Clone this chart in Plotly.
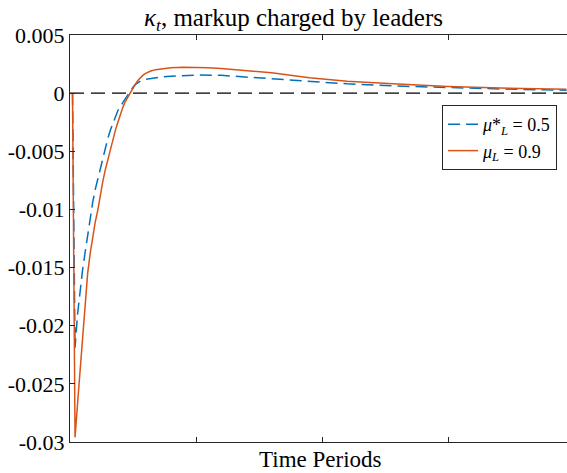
import plotly.graph_objects as go

# ---- data ----
t_blue = [1, 2, 3, 4, 5, 6, 7, 8, 9, 10, 11, 12, 13, 14, 15, 16, 17, 19, 21, 22, 23, 24, 25, 26, 27, 28, 30, 33, 36, 40, 45,
          52, 60, 75, 94, 110, 130, 150, 171, 197]
kappa_blue = [0.0, -0.0219, -0.0190, -0.0169, -0.0152, -0.0137, -0.0122, -0.0106, -0.0094, -0.0083, -0.0074, -0.0065,
              -0.0055, -0.0046, -0.0039, -0.0032, -0.0026, -0.0015, -0.0008, -0.00045, -0.0001, 0.0002, 0.0005, 0.00075,
              0.00092, 0.00104, 0.00118, 0.00130, 0.00138, 0.00146, 0.00152, 0.00156, 0.00153, 0.00130, 0.00099, 0.00080,
              0.00061, 0.00047, 0.00036, 0.00025]

t_orange = [1, 2, 3, 4, 5, 6, 7, 8, 9, 10, 11, 12, 13, 14, 15, 16, 18, 19, 20, 21, 22, 23, 24, 25, 26, 27, 28, 29, 30, 32,
            34, 37, 40, 45, 50, 55, 60, 70, 80, 95, 110, 130, 150, 171, 197]
kappa_orange = [0.0, -0.0296, -0.0267, -0.0240, -0.0206, -0.0180, -0.0155, -0.0138, -0.0123, -0.0111, -0.0101, -0.0088,
                -0.0076, -0.0066, -0.0057, -0.0048, -0.0032, -0.0025, -0.0018, -0.0012, -0.0007, -0.0003, 0.0001, 0.0005,
                0.0008, 0.0011, 0.00135, 0.00155, 0.0017, 0.0019, 0.00202, 0.00212, 0.00218, 0.00222, 0.00222, 0.00219,
                0.00212, 0.00195, 0.00175, 0.00132, 0.00103, 0.00078, 0.00058, 0.00044, 0.00033]

zero_x = [0, 197.2]
zero_y = [0, 0]

y_ticks = [0.005, 0, -0.005, -0.01, -0.015, -0.02, -0.025, -0.03]
y_ticktext = ["0.005", "0", "-0.005", "-0.01", "-0.015", "-0.02", "-0.025", "-0.03"]
x_ticks = [0, 50, 100, 150]

label_blue = "<i>μ</i>*<sub><i>L</i></sub> = 0.5"
label_orange = "<i>μ</i><sub><i>L</i></sub> = 0.9"

SERIF = "Liberation Serif"
AX = "#262626"

fig = go.Figure()
fig.add_trace(go.Scatter(x=zero_x, y=zero_y, mode="lines", showlegend=False,
                         line=dict(color="black", width=1.2, dash="14px,7px"), hoverinfo="skip"))
fig.add_trace(go.Scatter(x=t_blue, y=kappa_blue, mode="lines", name=label_blue,
                         line=dict(color="#0072BD", width=1.5, dash="12px,6px")))
fig.add_trace(go.Scatter(x=t_orange, y=kappa_orange, mode="lines", name=label_orange,
                         line=dict(color="#D95319", width=1.5)))

fig.update_layout(
    width=567, height=473,
    margin=dict(l=70, r=0, t=35, b=31),
    paper_bgcolor="white", plot_bgcolor="white",
    font=dict(family=SERIF, size=20, color="black"),
    showlegend=True,
    legend=dict(x=0.98, xanchor="right", y=0.828, yanchor="top",
                bordercolor=AX, borderwidth=1, bgcolor="white",
                font=dict(family=SERIF, size=18, color="black"),
                tracegroupgap=0, itemwidth=30),
    xaxis=dict(range=[0, 197.2], tickvals=x_ticks, showticklabels=False,
               ticks="inside", ticklen=5, tickcolor=AX, showline=True, linecolor=AX, linewidth=1,
               mirror="ticks", showgrid=False, zeroline=False),
    yaxis=dict(range=[-0.03, 0.005], tickmode="array", tickvals=y_ticks, ticktext=y_ticktext,
               ticks="inside", ticklen=5, tickcolor=AX, showline=True, linecolor=AX, linewidth=1,
               mirror=False, showgrid=False, zeroline=False,
               tickfont=dict(family=SERIF, size=22, color="black")),
    annotations=[
        dict(text="<i>κ</i><sub><i>t</i></sub>, markup charged by leaders", x=0.45, y=1.037,
             xref="paper", yref="paper", xanchor="center", yanchor="middle", showarrow=False,
             font=dict(family=SERIF, size=25, color="black")),
        dict(text="Time Periods", x=0.505, y=-0.042, xref="paper", yref="paper",
             xanchor="center", yanchor="middle", showarrow=False,
             font=dict(family=SERIF, size=23, color="black")),
    ],
)

fig.write_html("out.html")
